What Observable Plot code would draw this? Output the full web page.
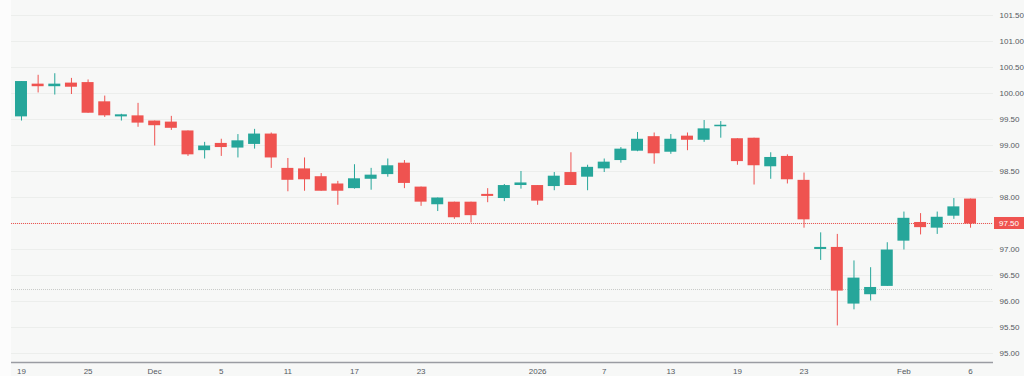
<!DOCTYPE html>
<html><head><meta charset="utf-8">
<script src="https://cdn.jsdelivr.net/npm/d3@7"></script>
<script src="https://cdn.jsdelivr.net/npm/@observablehq/plot@0.6"></script>
<style>
html,body{margin:0;padding:0;background:#f7f8f7;}
#chart{width:1024px;height:376px;overflow:hidden;}
</style></head><body><div id="chart"></div>
<script>
const dates = ["2025-11-19","2025-11-20","2025-11-21","2025-11-24","2025-11-25","2025-11-26","2025-11-27","2025-11-28",
"2025-12-01","2025-12-02","2025-12-03","2025-12-04","2025-12-05","2025-12-08","2025-12-09","2025-12-10","2025-12-11","2025-12-12",
"2025-12-15","2025-12-16","2025-12-17","2025-12-18","2025-12-19","2025-12-22","2025-12-23","2025-12-24","2025-12-25","2025-12-26",
"2025-12-29","2025-12-30","2025-12-31","2026-01-01","2026-01-02","2026-01-05","2026-01-06","2026-01-07","2026-01-08","2026-01-09",
"2026-01-12","2026-01-13","2026-01-14","2026-01-15","2026-01-16","2026-01-19","2026-01-20","2026-01-21","2026-01-22","2026-01-23",
"2026-01-26","2026-01-27","2026-01-28","2026-01-29","2026-01-30","2026-02-02","2026-02-03","2026-02-04","2026-02-05","2026-02-06"];
const open  = [99.56,100.17,100.14,100.19,100.20,99.83,99.56,99.56, 99.46,99.44,99.27,98.91,99.03,98.96,99.03,99.21,98.55,98.54,
98.39,98.25,98.18,98.36,98.45,98.65,98.19,97.87,97.90,97.90, 98.05,97.99,98.24,98.22,98.22,98.47,98.40,98.56,98.72,98.90,
99.16,98.88,99.17,99.11,99.37,99.12,99.13,98.60,98.78,98.32, 97.01,97.03,95.96,96.14,96.30,97.17,97.51,97.42,97.65,97.96];
const high  = [100.23,100.35,100.38,100.29,100.26,99.95,99.60,99.81, 99.47,99.56,99.28,99.06,99.12,99.21,99.31,99.24,98.75,98.76,
98.46,98.31,98.63,98.56,98.74,98.71,98.20,97.99,97.91,97.91, 98.17,98.25,98.50,98.23,98.48,98.86,98.62,98.74,98.96,99.25,
99.24,99.21,99.24,99.48,99.46,99.13,99.14,98.86,98.82,98.47, 97.32,97.29,96.78,96.65,97.13,97.72,97.69,97.72,97.98,97.97];
const low   = [99.47,100.01,99.97,99.98,99.62,99.54,99.47,99.35, 98.99,99.29,98.79,98.74,98.79,98.76,98.93,98.56,98.11,98.12,
98.12,97.85,98.16,98.14,98.39,98.17,97.83,97.73,97.58,97.51, 97.90,97.92,98.16,97.85,98.13,98.23,98.13,98.48,98.66,98.88,
98.64,98.83,98.90,99.06,99.14,98.62,98.24,98.35,98.26,97.41, 96.79,95.53,95.84,96.01,96.29,96.99,97.28,97.29,97.58,97.41];
const close = [100.22,100.14,100.17,100.13,99.63,99.58,99.58,99.44, 99.39,99.34,98.83,98.98,98.97,99.08,99.21,98.77,98.34,98.35,
98.13,98.13,98.35,98.42,98.60,98.28,97.92,97.98,97.62,97.66, 98.03,98.22,98.27,97.94,98.40,98.24,98.57,98.67,98.92,99.11,
98.85,99.11,99.11,99.31,99.38,98.70,98.62,98.76,98.35,97.58, 97.03,96.21,96.44,96.26,96.98,97.59,97.43,97.61,97.81,97.50];

const xTickDates  = ["2025-11-19","2025-11-25","2025-12-01","2025-12-05","2025-12-11","2025-12-17","2025-12-23","2026-01-01","2026-01-07","2026-01-13","2026-01-19","2026-01-23","2026-02-02","2026-02-06"];
const xTickLabels = ["19","25","Dec","5","11","17","23","2026","7","13","19","23","Feb","6"];
const yTicks = [95,95.5,96,96.5,97,97.5,98,98.5,99,99.5,100,100.5,101,101.5];
const refLevel = 96.23;

const green = "#26a69a", red = "#ef5350", textColor = "#55585f";
const font = "'Liberation Sans', Arial, sans-serif";
const data = dates.map((d,i)=>({i, date:d, o:open[i], h:high[i], l:low[i], c:close[i], col: close[i]>=open[i]?green:red}));
const last = close[close.length-1];
const levels = [{v:refLevel, col:"#c8cac8"}, {v:last, col:"#ef5350"}];
const tickIdx = xTickDates.map(d=>dates.indexOf(d));
const tickMap = new Map(tickIdx.map((t,k)=>[t,xTickLabels[k]]));
const yMin = 94.827, yMax = 101.788;

const chart = Plot.plot({
  width:1024, height:376, marginLeft:11, marginRight:31, marginTop:0, marginBottom:14,
  style:{background:"#f7f8f7", fontFamily:font, fontSize:"8px", color:textColor},
  x:{type:"linear", domain:[-0.60, 58.38]},
  y:{domain:[yMin, yMax]},
  color:{type:"identity"},
  marks:[
    Plot.ruleY(yTicks,{stroke:"#eceeec", strokeWidth:1}),
    Plot.ruleY(levels,{y:"v", stroke:"col", strokeDasharray:"1,1", strokeWidth:1}),
    Plot.ruleX(data,{x:"i", y1:"l", y2:"h", stroke:"col", strokeWidth:1}),
    Plot.rect(data,{x1:d=>d.i-0.36, x2:d=>d.i+0.36, y1:"o", y2:"c", fill:"col", insetTop:-0.5, insetBottom:-0.5}),
    Plot.axisX({ticks:tickIdx, tickFormat:t=>tickMap.get(t), tickSize:0, tickPadding:6, fill:textColor, fontSize:8, label:null}),
    Plot.axisY({anchor:"right", ticks:yTicks.filter(v=>v!==97.5), tickFormat:d=>d.toFixed(2), tickSize:0, tickPadding:6, textAnchor:"start", fill:textColor, fontSize:8, label:null}),
    Plot.ruleY([yMin],{stroke:"#9a9ca2", strokeWidth:1.3})
  ]
});
document.getElementById("chart").appendChild(chart);

// left strip and last price label
const svg = d3.select(chart);
svg.insert("rect", ":first-child").attr("x",0).attr("y",0).attr("width",11).attr("height",376).attr("fill","#fcfcfc");
const yPix = chart.scale("y").apply(last);
svg.append("rect").attr("x",994).attr("y",yPix-6).attr("width",30).attr("height",12).attr("fill",red);
svg.append("text").attr("x",1009).attr("y",yPix).attr("dy","0.35em").attr("text-anchor","middle").attr("fill","#ffffff")
  .attr("font-size","8px").attr("font-family",font).text(last.toFixed(2));
</script>
</body></html>
